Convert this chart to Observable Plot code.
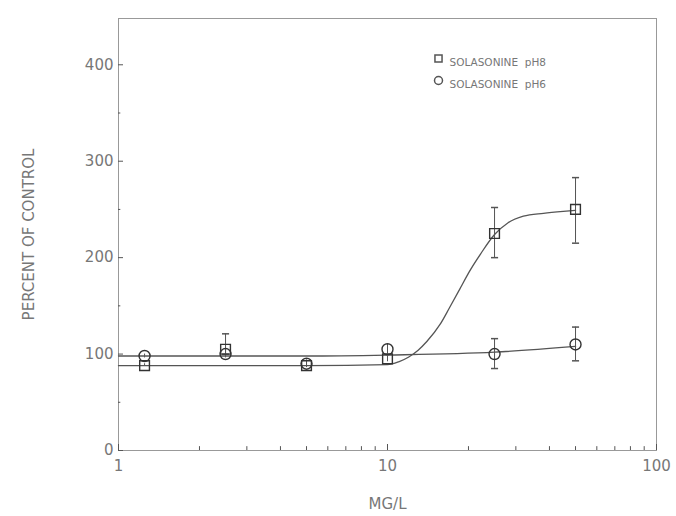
<!DOCTYPE html>
<html>
<head>
<meta charset="utf-8">
<script src="https://cdn.jsdelivr.net/npm/d3@7"></script>
<script src="https://cdn.jsdelivr.net/npm/@observablehq/plot@0.6"></script>
<style>
  html, body { margin: 0; padding: 0; background: #fff; }
  #chart { width: 676px; height: 516px; }
</style>
</head>
<body>
<div id="chart"></div>
<script>
// Concentrations (mg/L)
const conc = [1.25, 2.5, 5, 10, 25, 50];
// Solasonine pH8 (squares)
const ph8Mean = [88, 105, 88, 95, 225, 250];
const ph8Lo   = [88, 100, 86, 92, 200, 215];
const ph8Hi   = [90, 121, 92, 98, 252, 283];
// Solasonine pH6 (circles)
const ph6Mean = [98, 100, 90, 105, 100, 110];
const ph6Lo   = [96, 96, 86, 100, 85, 93];
const ph6Hi   = [100, 104, 94, 110, 116, 128];
// Fitted curves
const ph8CurveX = [1, 5, 10, 11, 12, 13, 14, 15.7, 17, 18.7, 20, 22.2, 25, 28, 32, 38, 45, 50];
const ph8CurveY = [88, 88, 89, 92, 97, 104, 113, 131, 148, 169, 184, 204, 224, 236, 243, 246, 248, 249];
const ph6CurveX = [1, 5, 10, 25, 50];
const ph6CurveY = [98, 98, 99, 102, 108];

const yTicks = [0, 100, 200, 300, 400];
const yMinor = [50, 150, 250, 350];
const xTicks = [1, 10, 100];
const xMinor = [2, 3, 4, 5, 6, 7, 8, 9, 20, 30, 40, 50, 60, 70, 80, 90];

const pts8 = conc.map((c, i) => ({x: c, y: ph8Mean[i], lo: ph8Lo[i], hi: ph8Hi[i]}));
const pts6 = conc.map((c, i) => ({x: c, y: ph6Mean[i], lo: ph6Lo[i], hi: ph6Hi[i]}));
const curve8 = ph8CurveX.map((x, i) => ({x, y: ph8CurveY[i]}));
const curve6 = ph6CurveX.map((x, i) => ({x, y: ph6CurveY[i]}));

const ink = "#555";
const textInk = "#777";

const caps8 = pts8.filter(d => d.hi - d.lo > 10);
const caps6 = pts6.filter(d => d.hi - d.lo > 20);

// horizontal cap symbol
const cap = {
  draw(context, size) {
    const w = Math.sqrt(size) * 0.5;
    context.moveTo(-w, 0);
    context.lineTo(w, 0);
  }
};

const chart = Plot.plot({
  width: 676,
  height: 516,
  marginLeft: 118,
  marginRight: 20,
  marginTop: 18,
  marginBottom: 66,
  style: {fontFamily: "DejaVu Sans", fontSize: "15px", color: textInk, background: "#fff"},
  x: {type: "log", domain: [1, 100]},
  y: {domain: [0, 448]},
  marks: [
    Plot.frame({stroke: "#999", strokeWidth: 1}),
    Plot.axisY({ticks: yTicks, tickSize: -5, tickPadding: 10, stroke: ink, fill: textInk,
      label: "PERCENT OF CONTROL", labelAnchor: "center", labelArrow: "none", labelOffset: 95, fontSize: 15}),
    Plot.ruleY(yMinor, {x1: 1, x2: 1.02, stroke: ink}),
    Plot.axisX({ticks: xTicks, tickFormat: d => String(d), tickSize: -6, tickPadding: 16, stroke: ink, fill: textInk,
      label: "MG/L", labelAnchor: "center", labelArrow: "none", labelOffset: 58, fontSize: 15}),
    Plot.ruleX(xMinor, {y1: 0, y2: 4, stroke: ink}),
    // fitted curves
    Plot.line(curve8, {x: "x", y: "y", curve: "monotone-x", stroke: ink, strokeWidth: 1.3}),
    Plot.line(curve6, {x: "x", y: "y", curve: "monotone-x", stroke: ink, strokeWidth: 1.3}),
    // error bars
    Plot.ruleX(pts8, {x: "x", y1: "lo", y2: "hi", stroke: ink, strokeWidth: 1}),
    Plot.ruleX(pts6, {x: "x", y1: "lo", y2: "hi", stroke: ink, strokeWidth: 1}),
    Plot.dot(caps8, {x: "x", y: "hi", symbol: cap, r: 4, stroke: ink, strokeWidth: 1.5}),
    Plot.dot(caps8, {x: "x", y: "lo", symbol: cap, r: 4, stroke: ink, strokeWidth: 1.5}),
    Plot.dot(caps6, {x: "x", y: "hi", symbol: cap, r: 4, stroke: ink, strokeWidth: 1.5}),
    Plot.dot(caps6, {x: "x", y: "lo", symbol: cap, r: 4, stroke: ink, strokeWidth: 1.5}),
    // markers
    Plot.dot(pts8, {x: "x", y: "y", symbol: "square", r: 5.5, stroke: "#333", fill: "none", strokeWidth: 1.4}),
    Plot.dot(pts6, {x: "x", y: "y", symbol: "circle", r: 5.5, stroke: "#333", fill: "none", strokeWidth: 1.4}),
    // legend
    Plot.dot(["pH8"], {frameAnchor: "top-right", dx: -218, dy: 40, symbol: "square", r: 4, stroke: ink, fill: "none"}),
    Plot.text(["SOLASONINE  pH8"], {frameAnchor: "top-right", dx: -207, dy: 40, textAnchor: "start", fontSize: 10.5, fill: textInk, letterSpacing: "0.6px"}),
    Plot.dot(["pH6"], {frameAnchor: "top-right", dx: -218, dy: 62, symbol: "circle", r: 4, stroke: ink, fill: "none"}),
    Plot.text(["SOLASONINE  pH6"], {frameAnchor: "top-right", dx: -207, dy: 62, textAnchor: "start", fontSize: 10.5, fill: textInk, letterSpacing: "0.6px"})
  ]
});
document.getElementById("chart").appendChild(chart);
</script>
</body>
</html>
